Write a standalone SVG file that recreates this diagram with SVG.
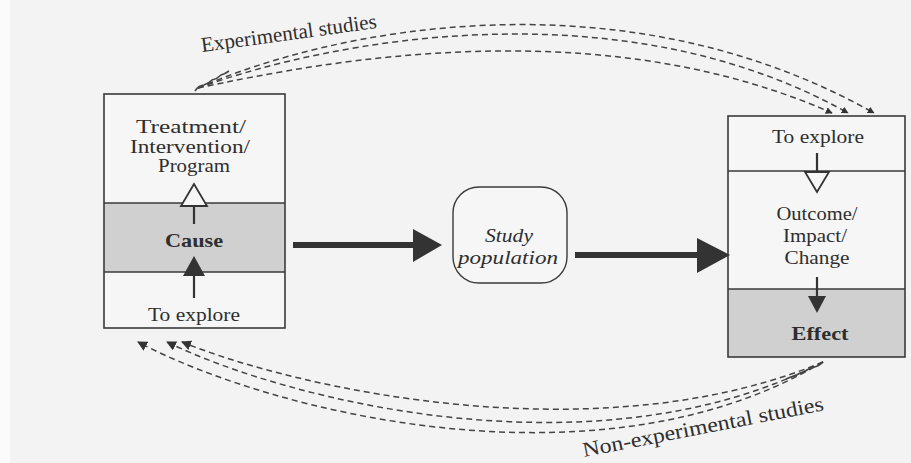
<svg xmlns="http://www.w3.org/2000/svg" width="911" height="463" viewBox="0 0 911 463">
<defs>
<style>
.bx{fill:none;stroke:#3a3a3a;stroke-width:1.6}
.sh{fill:#d0d0d0;stroke:none}
.dv{stroke:#3a3a3a;stroke-width:1.4}
.t{font-family:"Liberation Serif","Times New Roman",serif;font-size:19px;fill:#2e2e2e;text-anchor:middle}
.b{font-weight:bold}
.i{font-style:italic}
.lb{font-family:"Liberation Serif","Times New Roman",serif;font-size:21px;fill:#2e2e2e}
.dash{fill:none;stroke:#444;stroke-width:1.5;stroke-dasharray:6 4}
.stem{stroke:#333;stroke-width:2.2}
.big{fill:#333}
</style>
<marker id="ah" viewBox="0 0 10 10" refX="9" refY="5" markerWidth="7" markerHeight="7" markerUnits="userSpaceOnUse" orient="auto">
<path d="M0,0 L10,5 L0,10 z" fill="#333"/>
</marker>
<marker id="ahs" viewBox="0 0 10 10" refX="9" refY="5" markerWidth="10" markerHeight="10" markerUnits="userSpaceOnUse" orient="auto">
<path d="M0,0 L10,5 L0,10 z" fill="#333"/>
</marker>
</defs>
<rect x="0" y="0" width="911" height="463" fill="#f3f3f3"/>
<rect x="0" y="0" width="10" height="463" fill="#fbfbfb"/>

<g id="cause-box">
<rect x="104" y="94" width="181" height="234" fill="#f6f6f6"/>
<rect class="sh" x="104" y="203" width="181" height="69"/>
<rect class="bx" x="104" y="94" width="181" height="234"/>
<line class="dv" x1="104" y1="203" x2="285" y2="203"/>
<line class="dv" x1="104" y1="272" x2="285" y2="272"/>
<text class="t" x="191" y="133" textLength="110" lengthAdjust="spacingAndGlyphs">Treatment/</text>
<text class="t" x="190" y="153" textLength="120" lengthAdjust="spacingAndGlyphs">Intervention/</text>
<text class="t" x="194" y="172" textLength="72" lengthAdjust="spacingAndGlyphs">Program</text>
<line class="stem" x1="194" y1="206" x2="194" y2="224"/>
<polygon points="194,184 181,206 207,206" fill="#f6f6f6" stroke="#333" stroke-width="1.8"/>
<text class="t b" x="194" y="247" textLength="58" lengthAdjust="spacingAndGlyphs">Cause</text>
<line class="stem" x1="194" y1="274" x2="194" y2="298"/>
<polygon points="194,256 183,276 205,276" fill="#333"/>
<text class="t" x="194" y="321" textLength="92" lengthAdjust="spacingAndGlyphs">To explore</text>
</g>

<g id="study-population">
<rect x="453" y="187" width="114" height="96" rx="26" ry="26" fill="#f6f6f6" stroke="#3a3a3a" stroke-width="1.4"/>
<text class="t i" x="509" y="242" textLength="48" lengthAdjust="spacingAndGlyphs">Study</text>
<text class="t i" x="508" y="264" textLength="100" lengthAdjust="spacingAndGlyphs">population</text>
</g>

<g id="effect-box">
<rect x="728" y="116" width="177" height="241" fill="#f6f6f6"/>
<rect class="sh" x="728" y="289" width="177" height="68"/>
<rect class="bx" x="728" y="116" width="177" height="241"/>
<line class="dv" x1="728" y1="171" x2="905" y2="171"/>
<line class="dv" x1="728" y1="289" x2="905" y2="289"/>
<text class="t" x="818" y="143" textLength="92" lengthAdjust="spacingAndGlyphs">To explore</text>
<line class="stem" x1="817" y1="153" x2="817" y2="172"/>
<polygon points="817,192 805,172 829,172" fill="#f6f6f6" stroke="#333" stroke-width="1.8"/>
<text class="t" x="817" y="220" textLength="81" lengthAdjust="spacingAndGlyphs">Outcome/</text>
<text class="t" x="815" y="242" textLength="64" lengthAdjust="spacingAndGlyphs">Impact/</text>
<text class="t" x="817" y="264" textLength="65" lengthAdjust="spacingAndGlyphs">Change</text>
<line class="stem" x1="817" y1="277" x2="817" y2="298"/>
<polygon points="817,313 808,296 826,296" fill="#333"/>
<text class="t b" x="820" y="340" textLength="57" lengthAdjust="spacingAndGlyphs">Effect</text>
</g>

<g id="connectors">
<rect class="big" x="293" y="242" width="122" height="6"/>
<polygon class="big" points="442,245 413,229 413,262"/>
<rect class="big" x="575" y="252" width="125" height="6"/>
<polygon class="big" points="730,255 697,238 697,273"/>

<path class="dash" d="M198 88 C330 30, 620 -30, 874 113" marker-end="url(#ah)"/>
<path class="dash" d="M198 88 C330 40, 620 -15, 848 113" marker-end="url(#ah)"/>
<path class="dash" d="M198 88 C330 60, 600 10, 832 113" marker-end="url(#ah)"/>
<path d="M195 91 q4 -6 9 -6 q5 -2 8 -5 q5 -1 9 -5 q4 -1 8 -4" fill="none" stroke="#444" stroke-width="1.6"/>

<path class="dash" d="M823 362 C600 455, 300 390, 182 342" marker-end="url(#ahs)"/>
<path class="dash" d="M823 362 C600 478, 290 402, 167 342" marker-end="url(#ahs)"/>
<path class="dash" d="M823 362 C600 495, 270 412, 138 342" marker-end="url(#ahs)"/>
<path d="M823 362 q-5 5 -10 5 q-5 2 -9 5 q-5 1 -9 4 q-5 1 -9 3" fill="none" stroke="#444" stroke-width="1.6"/>

<text class="lb" x="202" y="52" transform="rotate(-7.8 202 52)" textLength="177" lengthAdjust="spacingAndGlyphs">Experimental studies</text>
<text class="lb" x="584" y="457" transform="rotate(-11 584 457)" textLength="245" lengthAdjust="spacingAndGlyphs">Non-experimental studies</text>
</g>
</svg>
